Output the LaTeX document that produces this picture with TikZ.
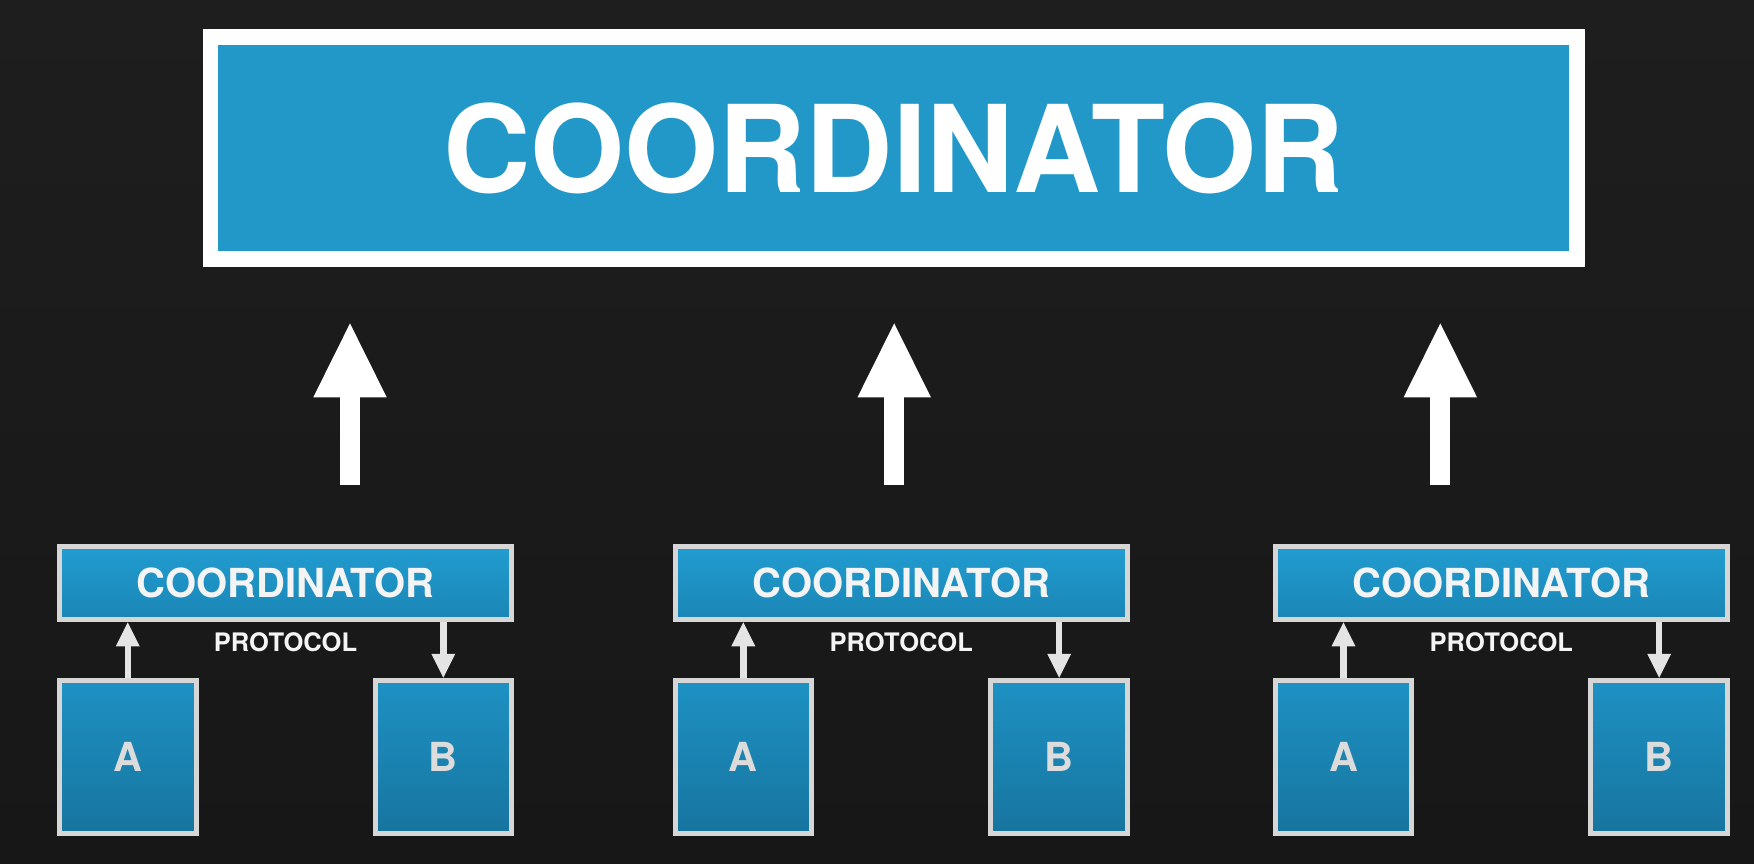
\documentclass[tikz,border=0pt]{standalone}
\usepackage{fontspec}
\setmainfont{TeX Gyre Heros}
\usetikzlibrary{arrows.meta}
\definecolor{bgtop}{HTML}{1E1E1E}
\definecolor{bgbot}{HTML}{171717}
\definecolor{bigblue}{HTML}{2198C8}
\definecolor{sctop}{HTML}{229CD0}
\definecolor{scbot}{HTML}{1A86B6}
\definecolor{abtop}{HTML}{1E91C3}
\definecolor{abbot}{HTML}{17759F}
\definecolor{bordergray}{HTML}{D6D6D6}
\definecolor{textwhite}{HTML}{F4F4F4}
\definecolor{textgray}{HTML}{DCDCDC}
\definecolor{arrowgray}{HTML}{E4E4E4}
\begin{document}
\begin{tikzpicture}[x=1pt,y=-1pt,
  bigbox/.style={draw=white,line width=15.5pt,fill=bigblue,minimum width=1366.1pt,minimum height=221.9pt,inner sep=0pt,
    text=white,font=\bfseries\fontsize{121}{121}\selectfont},
  smallcoord/.style={draw=bordergray,line width=5pt,top color=sctop,bottom color=scbot,minimum width=452pt,minimum height=73.3pt,inner sep=0pt,
    text=textwhite,font=\bfseries\fontsize{40}{40}\selectfont},
  abbox/.style={draw=bordergray,line width=5pt,top color=abtop,bottom color=abbot,minimum width=136.6pt,minimum height=153.3pt,inner sep=0pt,
    text=textgray,font=\bfseries\fontsize{40}{40}\selectfont},
  protolabel/.style={inner sep=0pt,text=textwhite,font=\bfseries\fontsize{25.5}{25.5}\selectfont},
  smallarrow/.style={draw=arrowgray,line width=6.5pt,-{Triangle[width=24pt,length=24pt,line width=0pt]}},
  bigarrow/.style={draw=white,line width=20pt,-{Triangle[width=73.5pt,length=74pt,line width=0pt]}}
]
\shade[top color=bgtop,bottom color=bgbot] (0,0) rectangle (1754,864);
\useasboundingbox (0,0) rectangle (1754,864);

\node[bigbox] (top) at (893.7,148) {COORDINATOR};

\foreach \i/\x in {1/350,2/894.2,3/1440.3}{
  \coordinate (ab\i) at (\x,485.3);
  \coordinate (at\i) at (\x,323.4);
  \draw[bigarrow] (ab\i) -- (at\i);
}

\foreach \i/\cx/\ax/\bx in {1/285.5/127.8/443.3, 2/901.2/743.3/1059.2, 3/1501.3/1343.5/1659.2}{
  \node[smallcoord] (c\i) at (\cx,583.2) {COORDINATOR};
  \node[abbox] (a\i) at (\ax,756.9) {A};
  \node[abbox] (b\i) at (\bx,756.9) {B};
  \node[protolabel] (p\i) at (\cx,641.7) {PROTOCOL};
  \draw[smallarrow] (a\i.north) -- (a\i.north |- c\i.south);
  \draw[smallarrow] (b\i.north |- c\i.south) -- (b\i.north);
}
\end{tikzpicture}
\end{document}
